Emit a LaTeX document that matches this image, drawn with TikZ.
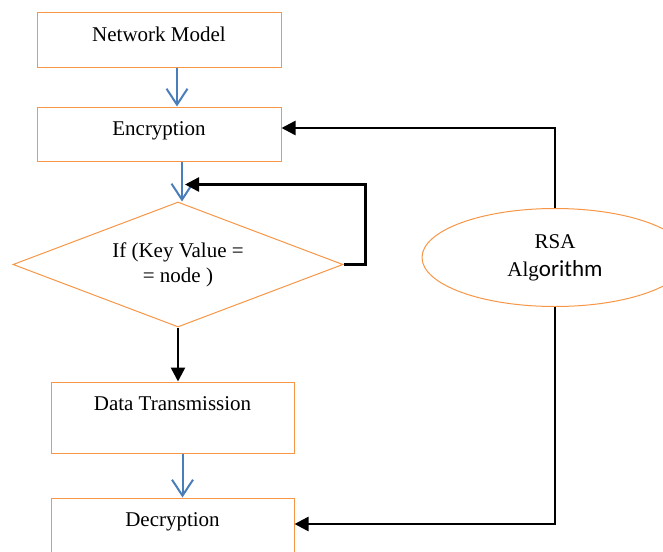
\documentclass[tikz,border=0pt]{standalone}
\usepackage{fontspec}
\setmainfont{Liberation Serif}
\newfontfamily\calibrifont{Carlito}
\usetikzlibrary{shapes.geometric, arrows.meta}

\definecolor{boxorange}{HTML}{F79646}
\definecolor{flowblue}{HTML}{4A7EBB}

\tikzset{
  box/.style={draw=boxorange, line width=1pt, minimum width=244pt, minimum height=54pt, inner sep=0pt},
  boxlabel/.style={anchor=base, yshift=-29pt},
  blueflow/.style={draw=flowblue, line width=2pt, -{Straight Barb[length=16pt, width=21pt]}},
  blackflow/.style={draw=black, line width=2.5pt, -{Triangle[length=14pt, width=14pt]}},
}

\begin{document}
\begin{tikzpicture}[x=1pt, y=-1pt, font=\fontsize{21}{25}\selectfont]
  \useasboundingbox (0,0) rectangle (663,551);

  % steps of the scheme
  \node[box, label={[boxlabel]north:Network Model}] (net) at (159,40) {};
  \node[box, label={[boxlabel]north:Encryption}] (enc) at (159,134) {};
  \node[draw=boxorange, line width=1pt, diamond, aspect=2.64, minimum width=330pt, minimum height=125pt,
        inner sep=0pt, align=center] (cond) at (178,264.5) {If (Key Value =\\= node )};
  \node[box, minimum width=243pt, minimum height=71pt, label={[boxlabel]north:Data Transmission}] (trans) at (172.5,417.5) {};
  \node[box, minimum width=243pt, minimum height=55pt, label={[boxlabel]north:Decryption}] (dec) at (172.5,525.5) {};
  \node[draw=boxorange, line width=1pt, ellipse, minimum width=266pt, minimum height=98pt, align=center]
        (rsa) at (555,257.5) {RSA\\[3pt]Alg{\calibrifont\fontsize{23}{25}\selectfont orithm}};

  % main flow
  \draw[blueflow] ([xshift=18pt]net.south) -- ([xshift=18pt]enc.north);
  \draw[blueflow] ([xshift=4pt]cond.north |- enc.south) -- ([xshift=4pt]cond.north);
  \draw[blackflow] (cond.east) -- ++(22,0) |- ([shift={(7,-17)}]cond.north);
  \draw[blackflow] (cond.south) -- (cond.south |- trans.north);
  \draw[blueflow] ([xshift=10pt]trans.south) -- ([xshift=10pt]dec.north);

  % key links
  \draw[blackflow] (rsa.north) |- ([yshift=6pt]enc.east);
  \draw[blackflow] (rsa.south) |- ([yshift=1.5pt]dec.east);
\end{tikzpicture}
\end{document}
